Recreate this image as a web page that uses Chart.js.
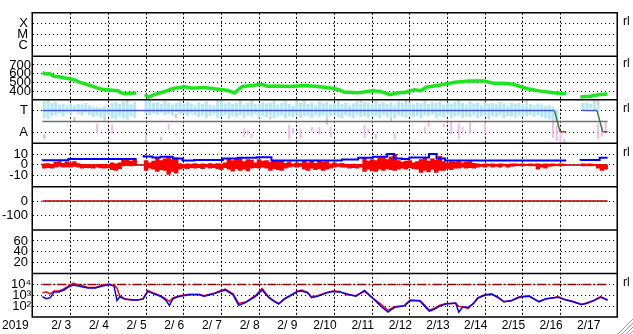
<!DOCTYPE html>
<html lang="en">
<head>
<meta charset="UTF-8">
<title>station panels</title>
<style>
  html, body { margin: 0; padding: 0; background: #fff; }
  canvas { display: block; }
</style>
</head>
<body>
<canvas id="panels" width="633" height="334"></canvas>

<script src="https://cdn.jsdelivr.net/npm/chart.js"></script>
<script>
// x axis: days since 2/3 00:00
const dayLabels = ['2/ 3','2/ 4','2/ 5','2/ 6','2/ 7','2/ 8','2/ 9','2/10','2/11','2/12','2/13','2/14','2/15','2/16','2/17'];
const yearLabel = '2019';
const refDays = [0, 15];

// panel 1
const p1Ticks = [1, 2, 3];
const p1Text = ['C', 'M', 'X'];

// panel 2 (green)
const p2Ticks = [400, 500, 600, 700];
const greenDays = [0,0.10,0.18,0.31,0.44,0.56,0.69,0.82,1.0,1.21,
  1.33,1.46,1.59,1.72,1.85,2.0,2.1,2.23,2.36,2.49,
  2.6,2.72,2.82,2.97,3.13,3.26,3.38,3.51,3.77,3.97,
  4.28,4.54,4.67,4.79,4.92,5.1,5.21,5.31,5.56,5.82,
  5.97,6.21,6.59,6.97,7.36,7.69,7.87,8.0,8.38,8.77,
  8.97,9.23,9.41,9.67,9.87,10.05,10.18,10.56,10.95,11.33,
  11.72,11.97,12.23,12.49,12.87,13.26,13.64,13.9,14.1,14.28,
  14.54,14.79,15.0];
const greenVals = [611,595,600,570,565,552,545,533,500,470,
  455,433,420,415,410,404,378,370,375,378,
  null,359,330,359,380,396,415,433,448,433,
  440,426,420,415,407,378,420,452,463,478,
  456,459,452,463,448,433,415,389,381,404,
  396,359,378,389,415,404,444,470,500,515,
  515,489,489,478,426,396,378,370,null,330,
  341,359,367];

// panel 3
const p3Ticks = [1, 3];
const p3Text = ['A', 'T'];
const statusDays = [0, 13.59, 13.74, 13.9, 14.1, 14.33, 14.72, 14.87, 15.0];
const statusVals = [3, 3, 1.05, 1.05, null, 3, 3, 1.05, 1.05];
const grayLevel = [2, 2];
// sky band, one range per 0.1 day bin
const skyHi = [
  3.85,3.9,3.7,3.8,3.55,3.6,3.5,3.65,3.45,3.6,
  3.55,3.7,3.5,3.3,3.35,3.25,3.4,3.3,3.75,3.8,
  3.6,3.85,3.7,3.55,3.8,null,null,3.9,3.85,3.7,
  3.8,3.6,3.9,3.75,3.55,3.7,3.85,3.6,3.8,3.65,
  3.5,3.75,3.6,3.85,3.55,3.45,3.7,3.9,3.65,3.8,
  3.6,3.75,3.85,3.55,3.7,3.9,3.6,3.5,3.8,3.65,
  3.75,3.9,3.55,3.7,3.85,3.6,3.45,3.8,3.7,3.9,
  3.6,3.75,3.5,3.85,3.65,3.8,3.55,3.7,3.9,3.6,
  3.75,3.5,3.65,3.85,3.6,3.8,3.7,3.55,3.9,3.65,
  3.8,3.6,3.75,3.5,3.85,3.7,3.6,3.8,3.55,3.75,
  3.65,3.9,3.6,3.8,3.7,3.85,3.55,3.75,3.6,3.8,
  3.9,3.7,3.55,3.85,3.65,3.75,3.5,3.8,3.6,3.7,
  3.55,3.8,3.65,3.5,3.75,3.6,3.7,3.55,3.45,3.6,
  3.5,3.65,3.55,3.4,3.5,3.3,3.1,null,null,null,
  null,null,null,3.7,3.75,3.6,3.7,3.4,null,null];
const skyLo = [
  2.3,2.2,2.45,2.6,2.75,2.5,2.8,2.65,2.9,2.7,
  2.55,2.8,2.6,2.4,2.5,2.35,2.45,2.6,2.3,2.2,
  2.45,2.3,2.15,2.5,2.35,null,null,2.7,2.6,2.75,
  2.65,2.8,2.6,2.7,2.55,2.85,2.65,2.7,2.5,2.75,
  2.6,2.4,2.55,2.3,2.5,2.65,2.35,2.45,2.6,2.25,
  2.5,2.4,2.6,2.3,2.55,2.45,2.7,2.35,2.5,2.4,
  2.6,2.3,2.45,2.55,2.25,2.5,2.4,2.65,2.35,2.5,
  2.45,2.3,2.6,2.4,2.55,2.25,2.5,2.65,2.4,2.3,
  2.55,2.45,2.3,2.6,2.4,2.5,2.35,2.55,2.45,2.3,
  2.6,2.4,2.5,2.3,2.55,2.45,2.35,2.6,2.4,2.5,
  2.3,2.55,2.45,2.65,2.35,2.5,2.4,2.6,2.3,2.45,
  2.55,2.35,2.5,2.4,2.6,2.3,2.45,2.55,2.35,2.5,
  2.4,2.6,2.3,2.5,2.45,2.35,2.55,2.4,2.5,2.6,
  2.45,2.55,2.4,2.3,2.2,2.1,1.9,null,null,null,
  null,null,null,3.05,3.1,3.2,3.0,2.9,null,null];
const pinkBins = [0,14,18,33,35,53,54,55,65,66,68,71,73,76,85,86,88,93,101,102,106,108,110,111,113,117,135,136,137,147,148,149];
const pinkLo = [0.36,0.9,0.9,1.25,0.7,0.6,0.8,0.45,0.35,0.9,0.45,1.05,0.8,0.6,0.45,0.9,0.35,0.35,0.9,1.5,1.5,0.8,0.35,1.0,0.9,0.9,0.5,0.2,0.0,0.35,0.6,1.1];
const pinkHi = [0.8,1.78,1.7,1.78,0.9,1.35,1.2,0.9,1.7,1.4,1.35,1.5,1.5,1.5,1.7,1.3,0.9,0.9,1.5,2.1,1.8,1.95,1.8,1.5,1.95,1.8,2.1,1.6,1.1,1.8,1.5,1.9];
const grayBins = [0,1,8,16,22,27,28,31,35,46,52,60,67,75,84,92,96,110,118,128,138,146,147];
const grayLo = [0.4,3.4,2.0,2.0,2.6,0.0,3.6,0.2,2.3,3.6,3.7,2.2,3.7,1.7,3.7,2.0,3.6,3.7,2.2,3.5,0.0,3.3,3.4];
const grayHi = [0.8,4.0,2.4,2.5,4.0,0.8,4.0,0.6,2.7,4.0,4.0,2.5,4.0,2.3,4.0,2.4,4.0,4.0,2.5,3.95,0.4,4.0,4.0];

// panel 4
const p4Ticks = [-10, 0, 10];
const p4Zero = [0, 0];
const p4BlueDays = [0,0.69,1.41,2.49,2.6,2.69,2.92,3.13,3.46,3.72,4.03,4.79,5.18,5.69,6.08,6.51,7.95,8.38,8.77,9.15,9.33,9.54,9.74,10.26,10.46,10.69,10.82,13.9,14.1,14.28,14.79,15.0];
const p4BlueVals = [4,4.3,5.5,5.5,null,9.1,7.8,6.9,7.5,5.8,4,4.5,6,6.5,7,4,4,5,6.5,7.5,10,6,5.5,6.9,10,6,4,4,null,4,4.5,6.5];
const redHi = [
  1.0,1.3,0.5,2.5,3.0,1.5,2.8,2.0,3.0,1.2,
  0.4,0.2,0.4,0.0,0.3,0.4,0.1,0.4,2.0,1.0,
  1.8,4.5,6.0,3.5,5.5,null,null,4.0,2.0,3.5,
  6.0,4.0,5.5,7.0,5.0,6.5,1.3,0.5,1.0,0.8,
  1.3,0.5,1.0,0.3,1.2,0.6,1.3,0.8,2.0,6.0,
  4.0,5.5,6.0,3.0,5.0,4.5,2.0,5.0,3.5,4.0,
  2.5,4.0,3.0,3.5,1.5,2.5,1.0,2.0,1.5,4.0,
  2.0,3.5,1.5,4.0,2.5,3.0,1.0,2.0,1.0,1.5,
  0.7,0.5,0.7,0.3,0.6,6.0,3.5,5.0,4.0,6.5,
  8.0,5.0,7.5,10.0,4.0,2.5,3.5,4.0,2.0,3.0,
  5.0,6.0,3.5,5.5,4.5,8.0,3.0,2.0,3.0,2.5,
  3.0,2.0,2.5,3.0,1.5,1.0,0.5,1.0,0.8,1.0,
  0.6,1.0,0.8,0.5,1.0,1.0,0.8,1.0,0.5,1.0,
  0.8,1.0,0.6,1.0,0.8,1.0,0.5,1.0,0.8,null,
  null,null,null,1.0,0.8,1.0,0.6,0.5,0.2,0.0];
const redLo = [
  -3.0,-2.5,-3.1,-2.0,-1.5,-2.0,-1.8,-2.0,-1.5,-2.0,
  -3.0,-2.5,-2.8,-3.0,-2.2,-2.8,-3.0,-2.5,-4.5,-5.0,
  -3.5,-1.0,-0.5,-1.0,-0.8,null,null,-5.0,-3.0,-4.0,
  -6.0,-4.5,-5.0,-8.7,-6.0,-7.5,-4.0,-3.0,-3.5,-2.5,
  -3.0,-2.5,-3.5,-2.0,-3.0,-2.5,-3.5,-4.5,-2.5,-4.0,
  -5.8,-3.5,-5.0,-4.0,-5.5,-3.0,-2.5,-3.0,-2.0,-3.0,
  -5.0,-3.5,-4.5,-5.0,-3.0,-2.0,-1.5,-2.0,-1.5,-4.0,
  -5.0,-3.0,-4.5,-3.5,-5.0,-4.0,-3.0,-2.0,-1.5,-2.0,
  -2.0,-3.0,-2.5,-3.0,-2.0,-6.0,-4.0,-5.5,-6.0,-4.0,
  -5.0,-3.5,-4.5,-5.0,-4.0,-3.0,-4.0,-2.5,-3.5,-4.0,
  -7.0,-5.0,-6.5,-4.0,-7.0,-5.0,-5.0,-3.5,-4.5,-3.0,
  -3.0,-2.0,-3.0,-2.5,-3.0,-2.0,-1.5,-2.0,-1.0,-2.0,
  -1.5,-2.0,-1.0,-2.0,-1.5,-1.0,-0.8,-1.0,-0.5,-1.0,
  -0.8,-4.0,-2.0,-3.0,-1.5,-1.0,-0.5,-1.0,-0.8,null,
  null,null,null,-1.0,-0.5,-1.0,-0.8,-3.0,-5.0,-4.0];

// panel 5
const p5Ticks = [-100, 0];
const p5Zero = [0, 0];

// panel 6
const p6Ticks = [20, 40, 60];

// panel 7 (log)
const p7Ticks = [100, 1000, 10000];
const p7Text = ['10\u00b2', '10\u00b3', '10\u2074'];
const p7Ref = [10000, 10000];
const p7Days = [0,0.10,0.21,0.31,0.44,0.57,0.69,0.82,0.95,1.08,
  1.21,1.41,1.59,1.77,1.90,1.98,2.05,2.18,2.36,2.52,
  2.67,2.80,2.95,3.13,3.26,3.37,3.47,3.65,3.90,4.16,
  4.29,4.55,4.70,4.85,5.06,5.21,5.39,5.65,5.83,6.01,
  6.14,6.27,6.42,6.60,6.78,6.88,7.04,7.14,7.30,7.55,
  7.71,7.89,8.07,8.32,8.55,8.73,8.99,9.17,9.35,9.61,
  9.76,10.02,10.15,10.27,10.40,10.53,10.71,10.97,11.05,11.15,
  11.30,11.43,11.56,11.74,11.92,12.07,12.25,12.43,12.66,12.92,
  13.18,13.36,13.69,13.85,14.05,14.31,14.44,14.64,14.82,15.0];
const p7Red = [1670,2050,1360,2510,2510,3780,6990,12900,8580,6990,
  5140,5140,8580,10500,8580,4640,903,489,398,359,
  489,2780,1670,903,489,264,600,903,1230,1230,
  903,1510,2510,3780,1360,176,239,903,4190,664,
  324,176,489,1110,2510,3080,1850,736,903,1850,
  2510,2270,1110,903,2270,664,143,42,86,117,
  359,324,117,42,63,117,176,176,95,86,
  63,176,600,1110,1360,664,239,324,736,903,
  239,441,736,441,293,143,194,359,736,324];
const p7Blue = [736,489,600,2050,2050,3080,5700,8580,6990,5700,
  4640,4640,6990,9500,6990,324,736,441,359,359,
  441,2270,1360,815,398,117,489,815,1110,1110,
  815,1360,2050,3080,1110,117,215,736,3080,600,
  293,158,441,1000,2270,2510,1670,600,815,1670,
  2270,2050,1360,815,2780,736,95,28,77,105,
  324,293,95,34,51,95,158,194,28,77,
  77,158,541,1000,1230,736,264,293,664,815,
  264,489,664,398,264,143,176,324,664,398];

const rlPanels = ['y1', 'y2', 'y3', 'y4', 'y7'];
const panelIds = ['y1', 'y2', 'y3', 'y4', 'y5', 'y6', 'y7'];

const FONT = "'Liberation Sans', Arial, sans-serif";
const binCenter = b => b / 10 + 0.05;
const pts = (days, vals) => days.map((d, i) => ({x: d, y: vals[i]}));
const binBars = (lo, hi) => lo.map((v, i) => v === null ? null : {x: binCenter(i), y: [v, hi[i]]}).filter(Boolean);
const listBars = (bins, lo, hi) => bins.map((b, i) => ({x: binCenter(b), y: [lo[i], hi[i]]}));

function panelAxis(type, min, max, tickVals, tickText, pad) {
  return {
    type: type, min: min, max: max,
    position: 'left', stack: 'panels', stackWeight: 1,
    grid: {color: '#000', lineWidth: 1, drawTicks: false},
    border: {display: false, dash: [1, 3]},
    afterBuildTicks: s => { s.ticks = tickVals.map(v => ({value: v})); },
    afterFit: s => { s.width = 33; },
    ticks: {
      color: '#000', padding: pad, autoSkip: false,
      font: {family: FONT, size: 13},
      callback: (v, i) => tickText ? tickText[i] : String(tickVals[i])
    }
  };
}

const framePlugin = {
  id: 'frame',
  afterDraw(chart) {
    const {ctx, chartArea: a, scales} = chart;
    ctx.save();
    ctx.strokeStyle = '#000';
    ctx.lineWidth = 1.5;
    ctx.beginPath();
    panelIds.forEach(id => {
      ctx.moveTo(a.left - 1.5, scales[id].top);
      ctx.lineTo(a.right + 1, scales[id].top);
    });
    ctx.moveTo(a.left - 1.5, a.bottom); ctx.lineTo(a.right + 1, a.bottom);
    ctx.moveTo(a.left - 0.75, a.top); ctx.lineTo(a.left - 0.75, a.bottom);
    ctx.moveTo(a.right + 0.25, a.top); ctx.lineTo(a.right + 0.25, a.bottom);
    ctx.stroke();

    ctx.fillStyle = '#000';
    ctx.font = '12px ' + FONT;
    ctx.textBaseline = 'middle';
    ctx.textAlign = 'left';
    rlPanels.forEach(id => {
      const s = scales[id];
      if (!s.ticks.length) return;
      const top = s.ticks[s.ticks.length - 1].value;
      ctx.fillText('rl', a.right + 6, s.getPixelForValue(top) - 1.5);
    });
    ctx.fillText(yearLabel, 2, scales.x.top + 1 + 7.2);

    // window resize grip
    ctx.lineWidth = 1;
    [3, 7, 11, 15].forEach(k => {
      ctx.strokeStyle = '#9a9a9a';
      ctx.beginPath();
      ctx.moveTo(chart.width - k, chart.height);
      ctx.lineTo(chart.width, chart.height - k);
      ctx.stroke();
      ctx.strokeStyle = '#ffffff';
      ctx.beginPath();
      ctx.moveTo(chart.width - k - 1, chart.height);
      ctx.lineTo(chart.width, chart.height - k - 1);
      ctx.stroke();
    });
    ctx.restore();
  }
};

const lineBase = {type: 'line', pointRadius: 0, fill: false, spanGaps: false};
const isDayLine = c => !!c.tick && Number.isInteger(c.tick.value) && c.tick.value > 0 && c.tick.value < 15;

new Chart(document.getElementById('panels'), {
  type: 'line',
  data: {
    datasets: [
      // panel 2
      Object.assign({}, lineBase, {yAxisID: 'y2', data: pts(greenDays, greenVals),
        borderColor: '#1ee61e', borderWidth: 3.5, order: 1}),
      // panel 3
      Object.assign({}, lineBase, {yAxisID: 'y3', data: pts(statusDays, statusVals), borderWidth: 1.5, order: 1,
        borderColor: '#4058e0',
        segment: {borderColor: c => (c.p0 && c.p1 && c.p0.parsed && c.p1.parsed && c.p0.parsed.y !== c.p1.parsed.y) ? '#3c7a3c'
          : (c.p0 && c.p0.parsed && c.p0.parsed.y < 2 ? '#e02828' : '#4058e0')}}),
      Object.assign({}, lineBase, {yAxisID: 'y3', data: pts(refDays, grayLevel), borderColor: '#707070', borderWidth: 1.5, order: 2}),
      {type: 'bar', yAxisID: 'y3', data: listBars(pinkBins, pinkLo, pinkHi), backgroundColor: '#f4b4ee',
        grouped: false, barPercentage: 0.5, categoryPercentage: 1, borderWidth: 0, order: 3},
      {type: 'bar', yAxisID: 'y3', data: binBars(skyLo, skyHi), backgroundColor: '#b4e8f8',
        grouped: false, barPercentage: 0.8, categoryPercentage: 1, borderWidth: 0, order: 4},
      {type: 'bar', yAxisID: 'y3', data: listBars(grayBins, grayLo, grayHi), backgroundColor: '#cfcfcf',
        grouped: false, barPercentage: 0.6, categoryPercentage: 1, borderWidth: 0, order: 5},
      // panel 4
      Object.assign({}, lineBase, {yAxisID: 'y4', data: pts(p4BlueDays, p4BlueVals), stepped: 'after',
        borderColor: '#0000ff', borderWidth: 2, order: 1}),
      {type: 'bar', yAxisID: 'y4', data: binBars(redLo, redHi), backgroundColor: '#ff0000',
        grouped: false, barPercentage: 1, categoryPercentage: 1, borderWidth: 0, order: 2},
      Object.assign({}, lineBase, {yAxisID: 'y4', data: pts(refDays, p4Zero), borderColor: '#a00000', borderWidth: 1.5, order: 3}),
      // panel 5
      Object.assign({}, lineBase, {yAxisID: 'y5', data: pts(refDays, p5Zero), borderColor: '#a00000', borderWidth: 1.5}),
      // panel 7
      Object.assign({}, lineBase, {yAxisID: 'y7', data: pts(p7Days, p7Blue), borderColor: '#0000ff', borderWidth: 1.5, order: 1}),
      Object.assign({}, lineBase, {yAxisID: 'y7', data: pts(p7Days, p7Red), borderColor: '#ff0000', borderWidth: 1.5, order: 2}),
      Object.assign({}, lineBase, {yAxisID: 'y7', data: pts(refDays, p7Ref), borderColor: '#a00000', borderWidth: 1.5,
        borderDash: [9, 2, 2, 2], order: 3})
    ]
  },
  options: {
    responsive: false,
    animation: false,
    events: [],
    layout: {padding: {top: 2, right: 16, left: 0, bottom: 0}},
    plugins: {legend: {display: false}, tooltip: {enabled: false}},
    scales: {
      x: {
        type: 'linear', min: 0, max: 15, position: 'bottom',
        grid: {
          drawTicks: false, lineWidth: 1,
          color: c => isDayLine(c) ? '#000' : 'rgba(0,0,0,0)'
        },
        border: {display: false, dash: [2, 2]},
        afterBuildTicks: s => { s.ticks = dayLabels.concat(['']).flatMap((_, i) => [{value: i}, {value: i + 0.5}]).filter(t => t.value <= 15); },
        afterFit: s => { s.height = 17; },
        ticks: {
          color: '#000', padding: 1, autoSkip: false, maxRotation: 0,
          font: {family: FONT, size: 12},
          callback: v => Number.isInteger(v) ? '' : dayLabels[Math.floor(v)]
        }
      },
      // stacked panels are laid out bottom-up in definition order
      y7: panelAxis('logarithmic', 10, 100000, p7Ticks, p7Text, 2),
      y6: panelAxis('linear', 0, 80, p6Ticks, null, 5),
      y5: panelAxis('linear', -200, 100, p5Ticks, null, 5),
      y4: panelAxis('linear', -20, 20, p4Ticks, null, 5),
      y3: panelAxis('linear', 0, 4, p3Ticks, p3Text, 5),
      y2: panelAxis('linear', 300, 800, p2Ticks, null, 2),
      y1: panelAxis('linear', 0, 4, p1Ticks, p1Text, 5)
    }
  },
  plugins: [framePlugin]
});
</script>
</body>
</html>
